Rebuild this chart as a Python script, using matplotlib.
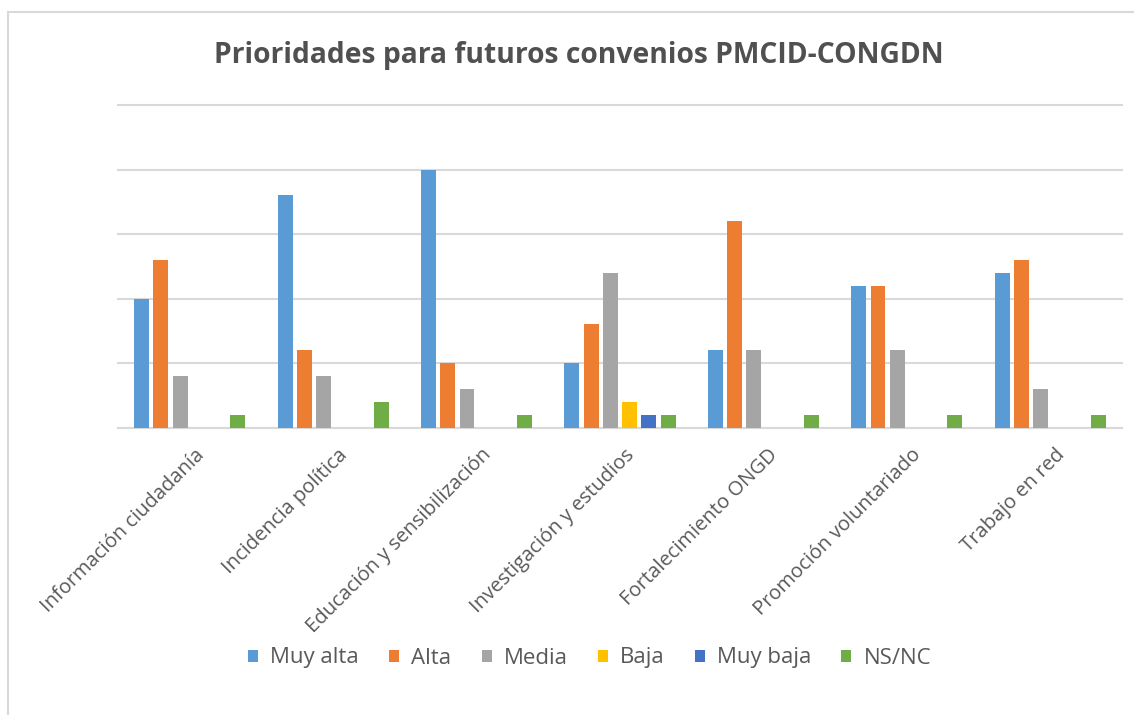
import numpy as np
import matplotlib.pyplot as plt
from matplotlib.patches import Rectangle

categories = ['Información ciudadanía', 'Incidencia política', 'Educación y sensibilización',
              'Investigación y estudios', 'Fortalecimiento ONGD', 'Promoción voluntariado',
              'Trabajo en red']
series = ['Muy alta', 'Alta', 'Media', 'Baja', 'Muy baja', 'NS/NC']
muy_alta = [10, 18, 20, 5, 6, 11, 12]
alta = [13, 6, 5, 8, 16, 11, 13]
media = [4, 4, 3, 12, 6, 6, 3]
baja = [0, 0, 0, 2, 0, 0, 0]
muy_baja = [0, 0, 0, 1, 0, 0, 0]
ns_nc = [1, 2, 1, 1, 1, 1, 1]
values = [muy_alta, alta, media, baja, muy_baja, ns_nc]
colors = ['#5B9BD5', '#ED7D31', '#A5A5A5', '#FFC000', '#4472C4', '#70AD47']

plt.rcParams['font.family'] = ['Open Sans', 'DejaVu Sans']

fig = plt.figure(figsize=(11.34, 7.15), dpi=100)
# outer chart frame (left and top edges visible)
fig.patches.append(Rectangle((8 / 1134, -0.05), 1.2, 1 - 12 / 715 + 0.05, transform=fig.transFigure,
                             fill=False, edgecolor='#d9d9d9', linewidth=1.5))

ax = fig.add_axes([118 / 1134, 1 - 427.5 / 715, 1004 / 1134, 322.5 / 715])
x = np.arange(len(categories))
step = 0.134
width = 0.104
for i, (name, vals) in enumerate(zip(series, values)):
    ax.bar(x + (i - 2.5) * step, vals, width, color=colors[i], label=name, zorder=3)

ax.set_xlim(-0.5, len(categories) - 0.5)
ax.set_ylim(0, 25)
ax.set_yticks(np.arange(0, 26, 5))
ax.yaxis.grid(True, color='#d9d9d9', linewidth=1.5, zorder=0)
for gl in ax.yaxis.get_gridlines():
    gl.set_clip_on(False)
ax.tick_params(axis='y', left=False, labelleft=False)
ax.tick_params(axis='x', bottom=False, pad=9)
for s in ['top', 'right', 'left']:
    ax.spines[s].set_visible(False)
ax.spines['bottom'].set_color('#d9d9d9')
ax.spines['bottom'].set_linewidth(1.5)
ax.set_xticks(x + 0.03)
ax.set_xticklabels(categories, rotation=45, ha='right', rotation_mode='anchor',
                   fontsize=14.5, color='#595959')

fig.text(0.51, 1 - 55 / 715, 'Prioridades para futuros convenios PMCID-CONGDN', ha='center', va='center',
         fontsize=20.3, fontweight='bold', color='#505050')

fig.legend(loc='center', bbox_to_anchor=(0.52, 1 - 658 / 715), ncol=6, frameon=False,
           fontsize=16, labelcolor='#595959', handlelength=0.45, handleheight=0.45,
           handletextpad=0.55, columnspacing=1.35)

fig.savefig('out.png', dpi=100, facecolor='white')
